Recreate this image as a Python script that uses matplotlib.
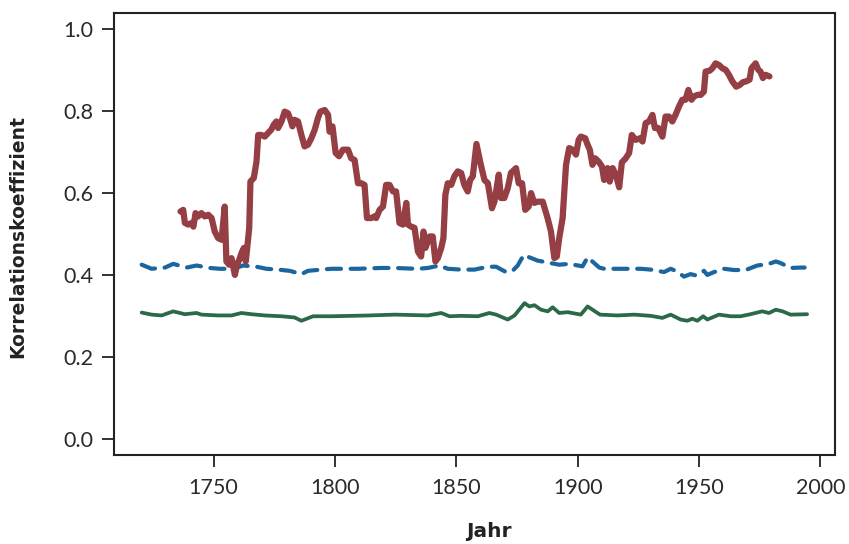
import matplotlib
matplotlib.use("Agg")
import matplotlib.pyplot as plt

# Red series (upper, thick solid)
red_years = [1736.4, 1737.5, 1738.2, 1739.6, 1741.0, 1741.7, 1742.6, 1743.7, 1745.0, 1746.4,
             1747.8, 1749.2, 1750.5, 1751.9, 1753.3, 1754.6, 1755.3, 1756.4, 1757.4, 1758.8,
             1759.7, 1760.6, 1761.5, 1762.5, 1763.3, 1764.7, 1765.2, 1766.6, 1767.7, 1768.4,
             1769.7, 1771.1, 1772.5, 1773.8, 1774.8, 1775.9, 1776.6, 1778.0, 1779.3, 1780.7,
             1781.7, 1782.5, 1783.4, 1784.8, 1786.2, 1787.5, 1788.9, 1790.3, 1791.7, 1793.0,
             1794.0, 1795.8, 1797.2, 1797.8, 1799.0, 1800.3, 1801.7, 1803.3, 1805.4, 1806.7,
             1808.1, 1809.5, 1810.9, 1812.2, 1813.2, 1815.0, 1816.3, 1817.0, 1818.4, 1819.8,
             1821.1, 1822.5, 1823.9, 1825.2, 1826.6, 1828.0, 1829.4, 1830.1, 1831.4, 1832.8,
             1834.2, 1835.5, 1836.5, 1837.3, 1839.0, 1840.3, 1841.4, 1842.4, 1843.8, 1844.7,
             1845.5, 1846.5, 1847.9, 1849.2, 1850.6, 1852.0, 1853.3, 1854.7, 1855.7, 1856.8,
             1858.3, 1860.0, 1861.6, 1863.0, 1864.7, 1865.7, 1867.5, 1868.4, 1869.8, 1871.2,
             1872.5, 1874.6, 1875.7, 1877.1, 1878.4, 1879.8, 1880.8, 1882.1, 1883.5, 1885.6,
             1887.6, 1889.0, 1890.4, 1891.4, 1892.4, 1893.8, 1895.2, 1896.5, 1897.9, 1899.3,
             1900.4, 1901.3, 1903.1, 1904.1, 1905.0, 1906.1, 1907.2, 1908.6, 1910.0, 1910.9,
             1912.3, 1913.2, 1914.4, 1915.7, 1917.1, 1918.2, 1919.8, 1921.2, 1922.3, 1923.9,
             1925.6, 1926.7, 1928.0, 1929.4, 1930.8, 1931.8, 1933.2, 1934.9, 1936.2, 1937.6,
             1939.0, 1940.3, 1941.7, 1943.1, 1944.4, 1945.6, 1946.9, 1947.9, 1949.3, 1950.7,
             1952.0, 1952.7, 1954.4, 1955.5, 1956.8, 1958.2, 1959.6, 1961.0, 1962.3, 1963.7,
             1965.3, 1966.7, 1968.1, 1969.4, 1970.8, 1971.6, 1973.3, 1974.4, 1975.3, 1976.3,
             1977.4, 1979.0]
red_values = [0.555, 0.559, 0.527, 0.523, 0.527, 0.518, 0.551, 0.543, 0.551, 0.543,
              0.547, 0.539, 0.506, 0.490, 0.486, 0.567, 0.433, 0.425, 0.441, 0.400,
              0.425, 0.437, 0.453, 0.466, 0.433, 0.515, 0.628, 0.637, 0.677, 0.742,
              0.742, 0.738, 0.747, 0.755, 0.767, 0.775, 0.759, 0.775, 0.799, 0.795,
              0.779, 0.763, 0.779, 0.775, 0.742, 0.714, 0.718, 0.734, 0.755, 0.783,
              0.799, 0.803, 0.791, 0.750, 0.763, 0.698, 0.690, 0.706, 0.706, 0.685,
              0.681, 0.624, 0.624, 0.620, 0.539, 0.539, 0.543, 0.539, 0.559, 0.567,
              0.620, 0.620, 0.604, 0.604, 0.527, 0.523, 0.576, 0.523, 0.518, 0.515,
              0.457, 0.445, 0.506, 0.466, 0.494, 0.494, 0.433, 0.441, 0.466, 0.490,
              0.596, 0.624, 0.620, 0.641, 0.653, 0.649, 0.620, 0.604, 0.632, 0.641,
              0.720, 0.672, 0.632, 0.624, 0.563, 0.579, 0.645, 0.588, 0.588, 0.612,
              0.649, 0.661, 0.624, 0.624, 0.559, 0.567, 0.600, 0.576, 0.579, 0.579,
              0.539, 0.506, 0.441, 0.445, 0.490, 0.539, 0.669, 0.710, 0.706, 0.694,
              0.730, 0.738, 0.734, 0.718, 0.706, 0.669, 0.685, 0.677, 0.665, 0.632,
              0.661, 0.628, 0.661, 0.645, 0.614, 0.675, 0.685, 0.698, 0.742, 0.730,
              0.734, 0.726, 0.771, 0.775, 0.791, 0.759, 0.759, 0.738, 0.787, 0.787,
              0.775, 0.791, 0.811, 0.828, 0.828, 0.852, 0.828, 0.836, 0.840, 0.840,
              0.848, 0.897, 0.899, 0.905, 0.917, 0.913, 0.905, 0.901, 0.889, 0.873,
              0.860, 0.864, 0.871, 0.873, 0.877, 0.905, 0.917, 0.901, 0.897, 0.881,
              0.889, 0.885]

# Blue series (dashed)
blue_years = [1720.4, 1724.5, 1730.0, 1733.4, 1738.9, 1743.0, 1748.5, 1752.6, 1758.1, 1762.2,
              1767.7, 1771.8, 1776.6, 1781.4, 1786.2, 1788.9, 1794.4, 1798.5, 1804.0, 1809.5,
              1814.0, 1819.1, 1824.6, 1829.0, 1834.2, 1838.3, 1843.1, 1846.5, 1852.0, 1857.5,
              1863.0, 1866.4, 1870.5, 1873.2, 1875.3, 1877.8, 1880.1, 1883.5, 1887.0, 1892.4,
              1896.5, 1902.0, 1904.1, 1906.8, 1908.9, 1910.9, 1916.4, 1920.5, 1926.0, 1930.1,
              1935.6, 1938.3, 1940.4, 1943.8, 1946.5, 1948.6, 1952.0, 1953.4, 1956.2, 1960.3,
              1964.4, 1969.2, 1974.0, 1978.8, 1981.6, 1983.6, 1987.7, 1991.8, 1993.5]
blue_values = [0.425, 0.415, 0.418, 0.427, 0.418, 0.423, 0.417, 0.415, 0.415, 0.423,
               0.420, 0.415, 0.413, 0.410, 0.402, 0.410, 0.413, 0.415, 0.415, 0.415,
               0.416, 0.417, 0.417, 0.416, 0.415, 0.417, 0.423, 0.415, 0.413, 0.413,
               0.420, 0.420, 0.407, 0.410, 0.423, 0.449, 0.443, 0.435, 0.431, 0.425,
               0.427, 0.421, 0.443, 0.429, 0.418, 0.415, 0.415, 0.415, 0.415, 0.413,
               0.407, 0.415, 0.410, 0.396, 0.402, 0.399, 0.410, 0.400, 0.407, 0.415,
               0.412, 0.412, 0.423, 0.427, 0.433, 0.429, 0.417, 0.418, 0.418]

# Green series (lower, solid)
green_years = [1720.4, 1724.5, 1728.6, 1733.4, 1738.2, 1743.0, 1745.0, 1751.9, 1757.4, 1761.5,
               1765.6, 1771.1, 1778.0, 1783.4, 1786.2, 1791.0, 1798.5, 1806.7, 1814.3, 1824.6,
               1838.3, 1843.8, 1847.2, 1852.0, 1858.9, 1863.6, 1866.4, 1871.2, 1874.0, 1878.1,
               1880.1, 1882.2, 1884.9, 1887.7, 1889.7, 1892.4, 1895.9, 1901.3, 1904.1, 1906.1,
               1909.2, 1916.4, 1923.3, 1930.1, 1934.9, 1938.3, 1942.4, 1945.2, 1947.2, 1949.3,
               1951.7, 1953.4, 1958.2, 1963.0, 1967.1, 1971.2, 1976.0, 1978.8, 1981.6, 1984.4,
               1987.7, 1994.5]
green_values = [0.308, 0.303, 0.301, 0.311, 0.304, 0.307, 0.303, 0.301, 0.301, 0.307,
                0.304, 0.301, 0.299, 0.296, 0.288, 0.299, 0.299, 0.300, 0.301, 0.303,
                0.301, 0.307, 0.299, 0.300, 0.299, 0.307, 0.303, 0.291, 0.301, 0.331,
                0.323, 0.326, 0.315, 0.311, 0.321, 0.307, 0.309, 0.303, 0.323, 0.315,
                0.303, 0.301, 0.303, 0.300, 0.295, 0.303, 0.291, 0.288, 0.293, 0.288,
                0.299, 0.291, 0.303, 0.299, 0.299, 0.304, 0.311, 0.307, 0.315, 0.311,
                0.303, 0.304]

x_ticks = [1750, 1800, 1850, 1900, 1950, 2000]
y_ticks = [0.0, 0.2, 0.4, 0.6, 0.8, 1.0]
x_label = "Jahr"
y_label = "Korrelationskoeffizient"

RED = "#953f44"
BLUE = "#1c66a0"
GREEN = "#2a6a46"
AX = "#222222"

fig = plt.figure(figsize=(8.49, 5.44), dpi=100)
ax = fig.add_axes([114 / 849, 1 - 455 / 544, (835 - 114) / 849, (455 - 13) / 544])

ax.plot(green_years, green_values, color=GREEN, lw=2.7, solid_capstyle="round",
        solid_joinstyle="round")
bl, = ax.plot(blue_years, blue_values, color=BLUE, lw=3.0, dash_capstyle="round",
              dash_joinstyle="round")
bl.set_dashes([3.4, 2.3])
ax.plot(red_years, red_values, color=RED, lw=4.5, solid_capstyle="round",
        solid_joinstyle="round")

ax.set_xlim(1709, 2006)
ax.set_ylim(-0.04, 1.04)
ax.set_xticks(x_ticks)
ax.set_yticks(y_ticks)
ax.set_xticklabels([str(v) for v in x_ticks], family="Lato", fontsize=15.5, color="#2a2a2a")
ax.set_yticklabels([f"{v:.1f}" for v in y_ticks], family="Lato", fontsize=15.5, color="#2a2a2a")
ax.tick_params(direction="out", length=8.6, width=1.3, color=AX, pad=6)
ax.tick_params(axis="x", pad=8)
for s in ax.spines.values():
    s.set_linewidth(1.5)
    s.set_color(AX)

ax.set_xlabel(x_label, family="DejaVu Sans", fontweight="bold", fontsize=14.5, color="#222222")
ax.xaxis.set_label_coords((489 - 114) / (835 - 114), -0.152)
ax.set_ylabel(y_label, family="DejaVu Sans", fontweight="bold", fontsize=13.5, color="#222222")
ax.yaxis.set_label_coords(-(114 - 27) / (835 - 114), (455 - 237) / (455 - 13))

fig.savefig("out.png", dpi=100)
